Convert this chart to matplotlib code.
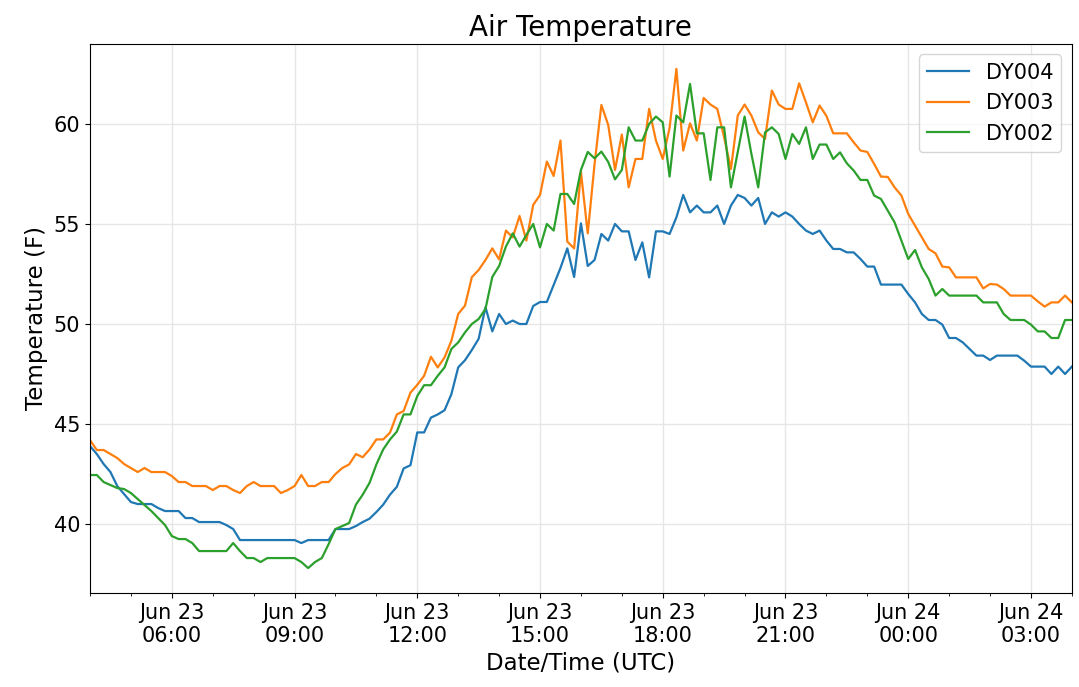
import matplotlib
matplotlib.use("Agg")
import matplotlib.pyplot as plt
import matplotlib.dates as mdates
import pandas as pd

# 10-minute readings, Jun 23 04:00 UTC -> Jun 24 04:00 UTC
START = "2019-06-23 04:00"

dy004 = [
    43.9, 43.5, 43.0, 42.6, 41.9, 41.5, 41.1, 41.0, 41.0, 41.0,
    40.8, 40.65, 40.65, 40.65, 40.3, 40.3, 40.1, 40.1, 40.1, 40.1,
    39.95, 39.75, 39.2, 39.2, 39.2, 39.2, 39.2, 39.2, 39.2, 39.2,
    39.2, 39.05, 39.2, 39.2, 39.2, 39.2, 39.75, 39.75, 39.75, 39.9,
    40.1, 40.27, 40.6, 40.97, 41.47, 41.86, 42.78, 42.94, 44.58, 44.58,
    45.32, 45.48, 45.69, 46.49, 47.83, 48.19, 48.7, 49.26, 50.84, 49.63,
    50.5, 50.0, 50.17, 50.0, 50.0, 50.9, 51.1, 51.1, 51.95, 52.8,
    53.78, 52.35, 55.03, 52.9, 53.2, 54.5, 54.17, 55.0, 54.63, 54.63,
    53.2, 54.08, 52.33, 54.63, 54.63, 54.5, 55.33, 56.45, 55.58, 55.92,
    55.58, 55.58, 55.92, 55.0, 55.92, 56.45, 56.3, 55.92, 56.3, 55.0,
    55.58, 55.37, 55.58, 55.37, 55.0, 54.67, 54.5, 54.67, 54.17, 53.75,
    53.75, 53.58, 53.58, 53.25, 52.87, 52.87, 51.97, 51.97, 51.97, 51.97,
    51.5, 51.08, 50.5, 50.2, 50.2, 49.97, 49.3, 49.3, 49.08, 48.75,
    48.42, 48.42, 48.2, 48.42, 48.42, 48.42, 48.42, 48.17, 47.87, 47.87,
    47.87, 47.5, 47.87, 47.5, 47.87,
]

dy003 = [
    44.2, 43.7, 43.7, 43.5, 43.3, 43.0, 42.8, 42.6, 42.8, 42.6,
    42.6, 42.6, 42.4, 42.1, 42.1, 41.9, 41.9, 41.9, 41.7, 41.9,
    41.9, 41.7, 41.55, 41.9, 42.1, 41.9, 41.9, 41.9, 41.55, 41.7,
    41.9, 42.45, 41.9, 41.9, 42.1, 42.1, 42.5, 42.8, 42.98, 43.5,
    43.34, 43.73, 44.23, 44.23, 44.57, 45.48, 45.65, 46.57, 46.96, 47.41,
    48.36, 47.83, 48.33, 49.16, 50.5, 50.92, 52.34, 52.7, 53.2, 53.78,
    53.23, 54.67, 54.33, 55.4, 54.17, 55.95, 56.45, 58.12, 57.4, 59.17,
    54.12, 53.78, 57.6, 54.53, 58.0, 60.95, 59.95, 57.7, 59.47, 56.83,
    58.25, 58.25, 60.75, 59.17, 58.25, 59.8, 62.75, 58.67, 60.03, 59.17,
    61.3, 60.97, 60.75, 59.33, 57.75, 60.42, 60.97, 60.42, 59.58, 59.25,
    61.67, 60.97, 60.75, 60.75, 62.03, 61.08, 60.08, 60.92, 60.4, 59.53,
    59.53, 59.53, 59.08, 58.67, 58.6, 58.0, 57.37, 57.35, 56.83, 56.42,
    55.5, 54.92, 54.33, 53.75, 53.53, 52.87, 52.83, 52.33, 52.33, 52.33,
    52.33, 51.78, 52.0, 51.97, 51.75, 51.42, 51.42, 51.42, 51.42, 51.13,
    50.87, 51.08, 51.08, 51.42, 51.08,
]

dy002 = [
    42.45, 42.45, 42.1, 41.95, 41.8, 41.75, 41.55, 41.25, 40.95, 40.65,
    40.3, 39.95, 39.4, 39.25, 39.25, 39.05, 38.65, 38.65, 38.65, 38.65,
    38.65, 39.05, 38.65, 38.3, 38.3, 38.1, 38.3, 38.3, 38.3, 38.3,
    38.3, 38.1, 37.8, 38.1, 38.3, 39.0, 39.75, 39.9, 40.05, 40.97,
    41.47, 42.06, 42.98, 43.73, 44.23, 44.62, 45.48, 45.48, 46.4, 46.94,
    46.94, 47.41, 47.83, 48.75, 49.08, 49.58, 50.0, 50.25, 50.75, 52.35,
    52.9, 53.87, 54.53, 53.87, 54.45, 55.0, 53.83, 55.0, 54.67, 56.5,
    56.5, 56.0, 57.7, 58.6, 58.28, 58.62, 58.1, 57.23, 57.7, 59.83,
    59.17, 59.17, 60.0, 60.37, 60.08, 57.37, 60.42, 60.08, 62.0, 59.53,
    59.53, 57.2, 59.83, 59.83, 56.83, 58.6, 60.37, 58.5, 56.83, 59.58,
    59.83, 59.5, 58.25, 59.5, 59.0, 59.83, 58.25, 58.97, 58.97, 58.25,
    58.58, 58.03, 57.67, 57.2, 57.2, 56.42, 56.25, 55.67, 55.08, 54.17,
    53.25, 53.7, 52.83, 52.25, 51.42, 51.75, 51.42, 51.42, 51.42, 51.42,
    51.42, 51.08, 51.08, 51.08, 50.5, 50.2, 50.2, 50.2, 49.97, 49.63,
    49.63, 49.3, 49.3, 50.2, 50.2,
]

stations = ["DY004", "DY003", "DY002"]
series = [dy004, dy003, dy002]
times = pd.date_range(START, periods=len(dy004), freq="10min")

fig = plt.figure(figsize=(10.79, 6.87), dpi=100)
ax = fig.add_axes([0.0834, 0.1368, 0.91, 0.7992])

for name, vals in zip(stations, series):
    ax.plot(times, vals, label=name, linewidth=1.6)

ax.set_xlim(times[0], times[-1])
ax.xaxis.set_major_locator(mdates.HourLocator(byhour=range(0, 24, 3)))
ax.xaxis.set_minor_locator(mdates.HourLocator())
ax.xaxis.set_major_formatter(mdates.DateFormatter("%b %d\n%H:%M"))
ax.tick_params(axis="both", which="major", labelsize=15)
ax.grid(True, color="#e6e6e6", linewidth=1.0)
ax.set_axisbelow(True)

ax.set_title("Air Temperature", fontsize=20)
ax.set_xlabel("Date/Time (UTC)", fontsize=16.5)
ax.set_ylabel("Temperature (F)", fontsize=16.5)
ax.legend(loc="upper right", fontsize=15)

fig.savefig("out.png", dpi=100)
